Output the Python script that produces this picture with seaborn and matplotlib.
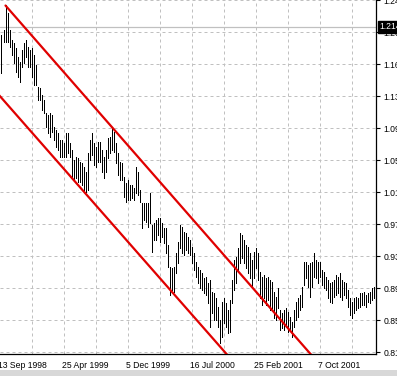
import pandas as pd
import numpy as np
import seaborn as sns
import matplotlib.pyplot as plt
from matplotlib.patches import Rectangle
from matplotlib.ticker import FixedLocator, NullFormatter

# weekly EUR/USD bars, first bar = week of 20 Sep 1998
first_week = '1998-09-20'

high = [1.204, 1.210, 1.241, 1.231, 1.210, 1.198, 1.195, 1.189, 1.178, 1.172,
        1.186, 1.195, 1.198, 1.190, 1.186, 1.189, 1.180, 1.168, 1.141, 1.140,
        1.132, 1.125, 1.110, 1.107, 1.110, 1.107, 1.093, 1.089, 1.085, 1.077,
        1.077, 1.073, 1.085, 1.085, 1.073, 1.065, 1.053, 1.056, 1.055, 1.050,
        1.049, 1.044, 1.038, 1.061, 1.077, 1.085, 1.073, 1.068, 1.075, 1.075,
        1.065, 1.056, 1.065, 1.079, 1.081, 1.093, 1.087, 1.073, 1.061, 1.050,
        1.049, 1.032, 1.025, 1.028, 1.022, 1.022, 1.019, 1.044, 1.038, 1.016,
        1.001, 1.001, 1.001, 1.001, 1.013, 0.974, 0.976, 0.980, 0.982, 0.982,
        0.976, 0.970, 0.970, 0.950, 0.923, 0.922, 0.923, 0.940, 0.953, 0.974,
        0.971, 0.965, 0.964, 0.959, 0.956, 0.947, 0.940, 0.929, 0.923, 0.919,
        0.916, 0.910, 0.911, 0.904, 0.907, 0.893, 0.891, 0.885, 0.874, 0.859,
        0.881, 0.885, 0.879, 0.871, 0.883, 0.907, 0.931, 0.935, 0.946, 0.964,
        0.962, 0.956, 0.950, 0.947, 0.940, 0.931, 0.941, 0.946, 0.940, 0.917,
        0.911, 0.913, 0.910, 0.911, 0.907, 0.905, 0.893, 0.887, 0.898, 0.871,
        0.867, 0.871, 0.873, 0.868, 0.862, 0.856, 0.871, 0.881, 0.885, 0.889,
        0.899, 0.929, 0.929, 0.925, 0.928, 0.929, 0.940, 0.931, 0.929, 0.929,
        0.919, 0.917, 0.911, 0.907, 0.904, 0.905, 0.907, 0.913, 0.911, 0.916,
        0.907, 0.905, 0.904, 0.895, 0.885, 0.881, 0.885, 0.887, 0.885, 0.891,
        0.891, 0.893, 0.889, 0.891, 0.893, 0.898, 0.899, 0.910]

low = [1.158, 1.196, 1.196, 1.196, 1.190, 1.180, 1.170, 1.159, 1.153, 1.147,
       1.165, 1.170, 1.178, 1.165, 1.165, 1.153, 1.144, 1.144, 1.125, 1.125,
       1.113, 1.110, 1.093, 1.085, 1.081, 1.087, 1.077, 1.068, 1.065, 1.056,
       1.056, 1.056, 1.056, 1.061, 1.056, 1.032, 1.028, 1.031, 1.026, 1.026,
       1.022, 1.016, 1.014, 1.016, 1.053, 1.059, 1.047, 1.044, 1.050, 1.050,
       1.038, 1.031, 1.038, 1.055, 1.061, 1.065, 1.062, 1.049, 1.035, 1.028,
       1.028, 1.008, 1.002, 1.004, 1.004, 1.007, 1.004, 1.013, 1.010, 1.002,
       0.970, 0.980, 0.978, 0.971, 0.976, 0.941, 0.956, 0.956, 0.962, 0.953,
       0.959, 0.952, 0.940, 0.923, 0.889, 0.895, 0.893, 0.916, 0.928, 0.946,
       0.940, 0.938, 0.944, 0.940, 0.938, 0.928, 0.919, 0.911, 0.904, 0.898,
       0.895, 0.891, 0.889, 0.879, 0.850, 0.867, 0.859, 0.859, 0.850, 0.831,
       0.838, 0.855, 0.850, 0.843, 0.844, 0.879, 0.895, 0.904, 0.917, 0.928,
       0.934, 0.928, 0.922, 0.916, 0.910, 0.899, 0.910, 0.922, 0.907, 0.885,
       0.877, 0.885, 0.877, 0.883, 0.871, 0.873, 0.861, 0.859, 0.873, 0.847,
       0.849, 0.847, 0.850, 0.844, 0.847, 0.838, 0.850, 0.859, 0.862, 0.871,
       0.874, 0.901, 0.910, 0.899, 0.887, 0.899, 0.911, 0.910, 0.904, 0.911,
       0.901, 0.898, 0.895, 0.885, 0.881, 0.879, 0.887, 0.889, 0.891, 0.887,
       0.883, 0.889, 0.885, 0.874, 0.865, 0.861, 0.867, 0.871, 0.873, 0.874,
       0.877, 0.877, 0.874, 0.881, 0.879, 0.883, 0.885, 0.891]

x_labels = ['13 Sep 1998', '25 Apr 1999', '5 Dec 1999', '16 Jul 2000',
            '25 Feb 2001', '7 Oct 2001']
price_ticks = [0.8199, 0.8587, 0.8975, 0.9363, 0.9751, 1.0139, 1.0527,
               1.0915, 1.1303, 1.1691, 1.2079, 1.2467]

# channel anchors (bar, price)
upper_channel = [(2, 1.240), (156, 0.8134)]
lower_channel = [(-2, 1.1335), (114, 0.8134)]
last_line = 1.2140

n = len(high)
weeks = pd.date_range(first_week, periods=n, freq='7D')
bars = pd.DataFrame({'bar': np.arange(n), 'week': weeks, 'High': high, 'Low': low})
long = bars.melt(id_vars=['bar', 'week'], value_vars=['High', 'Low'],
                 var_name='kind', value_name='price')

sns.set_style('white')
plt.rcParams['font.family'] = ['Liberation Sans', 'DejaVu Sans']
fs = 6.2

fig = plt.figure(figsize=(3.97, 3.76), dpi=100)
ax = fig.add_axes([0, 22 / 376, 376 / 397, 354 / 376])

grid_kw = dict(color='#c0c0c0', lw=0.72, ls=(0, (3, 3)))
ax.grid(True, which='both', axis='both', **grid_kw)
ax.set_axisbelow(True)

ax.axhline(last_line, color='#c0c0c0', lw=0.9, zorder=1)

sns.lineplot(data=long, x='bar', y='price', units='bar', estimator=None,
             color='black', lw=0.6, antialiased=False, ax=ax, legend=False)

for (x0, y0), (x1, y1) in [upper_channel, lower_channel]:
    ax.plot([x0, x1], [y0, y1], color='#e00000', lw=1.6, solid_capstyle='round', zorder=5)

ax.set_xlim(-0.75, n - 0.75)
ax.set_ylim(0.8175, 1.2467)

# x ticks from label dates
lab_dates = pd.to_datetime(x_labels, format='%d %b %Y')
lab_pos = ((lab_dates - weeks[0]).days / 7).values
ax.xaxis.set_major_locator(FixedLocator(lab_pos))
ax.xaxis.set_minor_locator(FixedLocator(lab_pos + 16))
ax.xaxis.set_major_formatter(NullFormatter())
ax.tick_params(axis='x', which='major', direction='out', length=3, width=0.8,
               colors='black')
ax.tick_params(axis='x', which='minor', length=0)
for pos, lab in zip(lab_pos, x_labels):
    ax.annotate(lab, xy=(pos, 0), xycoords=('data', 'axes fraction'),
                xytext=(-1, -7), textcoords='offset pixels', ha='left', va='top',
                fontsize=fs, color='black', annotation_clip=False)

ax.yaxis.tick_right()
ax.set_yticks(price_ticks)
ax.set_yticklabels([f'{v:.4f}' for v in price_ticks])
ax.tick_params(axis='y', direction='out', length=3, width=0.8, pad=2.5,
               labelsize=fs, colors='black')

ax.set_xlabel('')
ax.set_ylabel('')
for s in ['top', 'left']:
    ax.spines[s].set_visible(False)
for s in ['right', 'bottom']:
    ax.spines[s].set_color('black')
    ax.spines[s].set_linewidth(0.9)

ax.annotate(f'{last_line:.4f}', xy=(1, last_line), xycoords=('axes fraction', 'data'),
            xytext=(3, 0), textcoords='offset pixels', ha='left', va='center',
            fontsize=fs, color='white', annotation_clip=False,
            bbox=dict(boxstyle='square,pad=0.15', fc='black', ec='black'))

fig.patches.append(Rectangle((0, 0), 1, 6 / 376, transform=fig.transFigure,
                             fc='#d8d8d8', ec='none'))

fig.savefig('out.png', dpi=100)
